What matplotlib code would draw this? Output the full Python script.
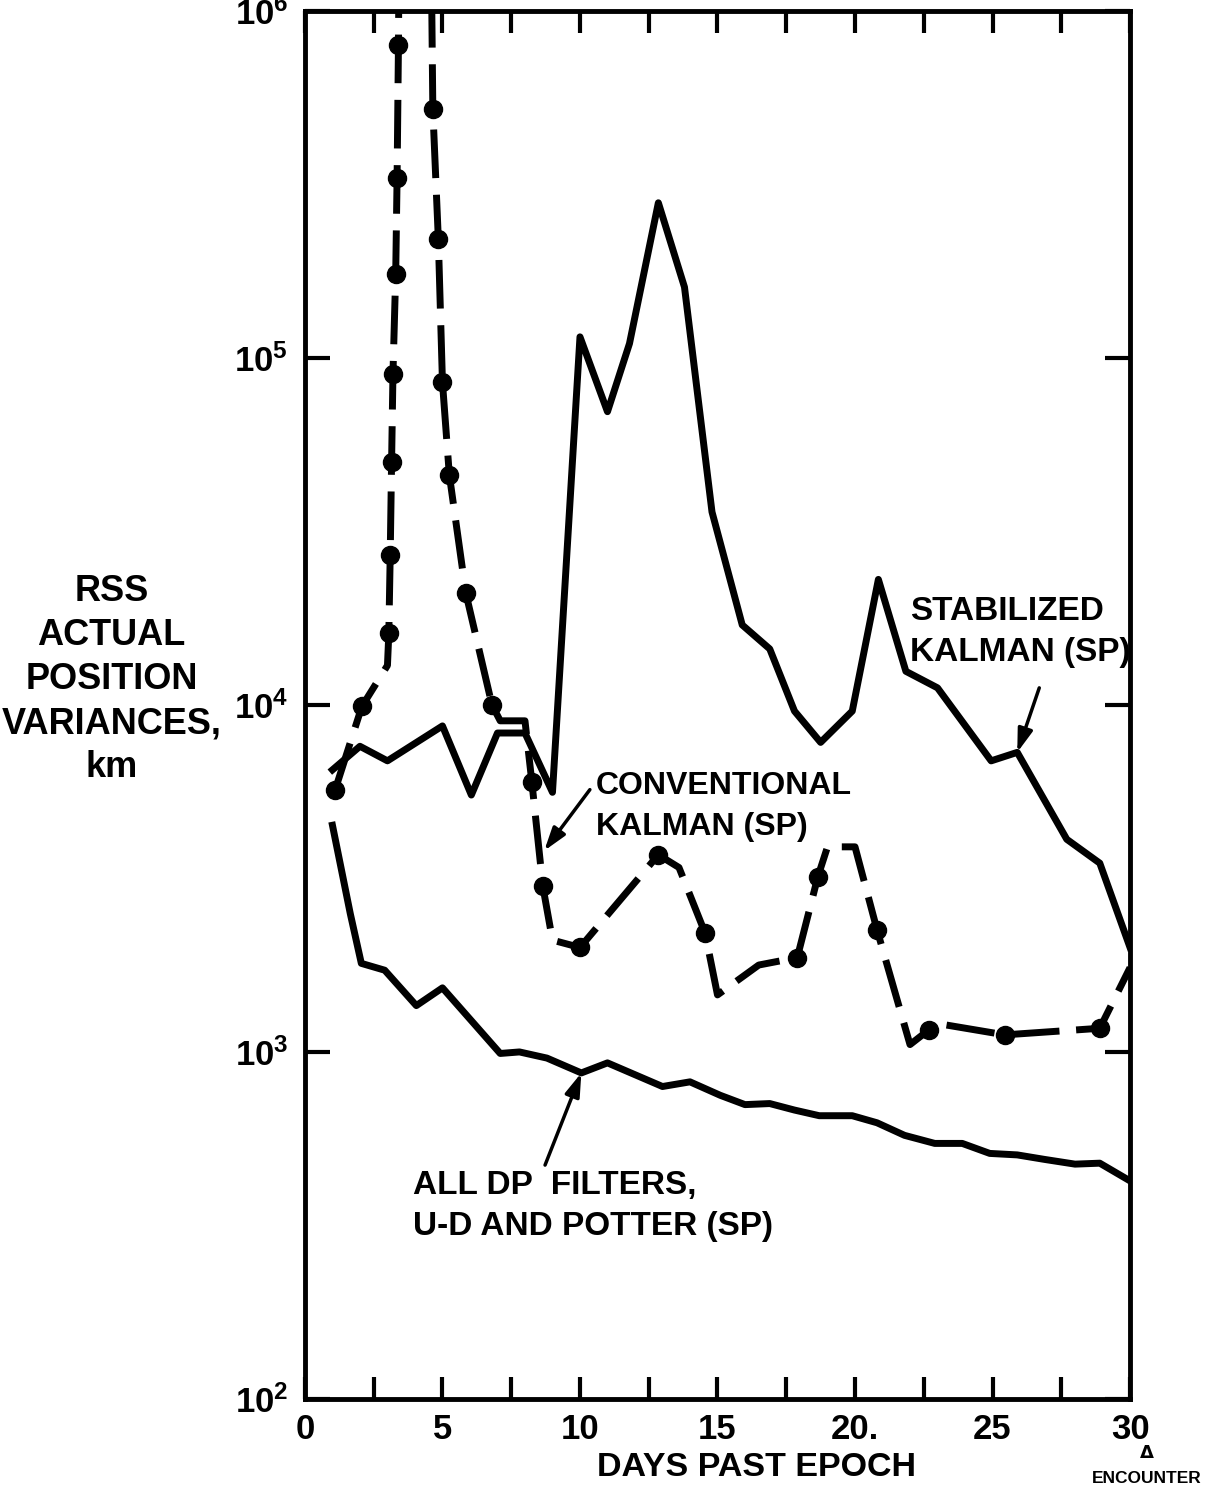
import matplotlib
matplotlib.use("Agg")
import matplotlib.pyplot as plt
import numpy as np

# ---- data ----
stab_x = [1.0, 2.0, 3.0, 5.0, 6.05, 7.0, 8.0, 9.0, 10.0, 11.0, 11.8, 12.85, 13.8,
          14.8, 15.9, 16.9, 17.8, 18.75, 19.9, 20.85, 21.85, 23.0, 24.95, 25.9,
          27.7, 28.9, 30.0]
stab_y = [6.5e3, 7.6e3, 6.9e3, 8.7e3, 5.5e3, 8.3e3, 8.3e3, 5.6e3, 1.15e5, 7.0e4,
          1.1e5, 2.8e5, 1.6e5, 3.6e4, 1.7e4, 1.45e4, 9.6e3, 7.8e3, 9.6e3, 2.3e4,
          1.25e4, 1.12e4, 6.9e3, 7.3e3, 4.1e3, 3.5e3, 2.0e3]

conv_x = [1.1, 2.07, 3.0, 3.05, 3.1, 3.15, 3.2, 3.3, 3.35, 3.4, 3.45, 4.55, 4.65,
          4.85, 5.0, 5.25, 5.85, 6.8, 7.1, 8.0, 8.25, 8.65, 9.0, 10.0, 12.85,
          13.6, 14.55, 15.0, 16.5, 17.9, 18.65, 19.0, 20.0, 20.8, 22.0, 22.7,
          23.2, 25.45, 28.9, 30.0]
conv_y = [5.7e3, 9.9e3, 1.3e4, 1.61e4, 2.7e4, 5.0e4, 9.0e4, 1.75e5, 3.3e5, 8.0e5,
          3e6, 3e6, 5.2e5, 2.2e5, 8.5e4, 4.6e4, 2.1e4, 1.0e4, 9.0e3, 9.0e3, 6.0e3,
          3.0e3, 2.1e3, 2.0e3, 3.7e3, 3.4e3, 2.2e3, 1.46e3, 1.78e3, 1.87e3,
          3.2e3, 3.9e3, 3.9e3, 2.25e3, 1.05e3, 1.16e3, 1.2e3, 1.12e3, 1.17e3,
          1.75e3]
conv_dot = [1, 1, 0, 1, 1, 1, 1, 1, 1, 1, 0, 0, 1, 1, 1, 1, 1, 1, 0, 0, 1, 1, 0,
            1, 1, 0, 1, 0, 0, 1, 1, 0, 0, 1, 0, 1, 0, 1, 1, 0]

dp_x = [1.0, 1.65, 2.05, 2.9, 4.05, 5.0, 7.1, 7.8, 8.8, 10.05, 11.0, 13.0, 14.0,
        15.1, 16.0, 16.9, 17.8, 18.7, 19.9, 20.8, 21.8, 22.9, 23.9, 24.9, 25.9,
        26.9, 28.0, 28.9, 30.0]
dp_y = [4500, 2500, 1800, 1720, 1360, 1530, 990, 1000, 960, 870, 930, 795, 820,
        750, 705, 710, 680, 655, 655, 625, 575, 545, 545, 510, 505, 490, 475,
        478, 425]

x_major = [0, 5, 10, 15, 20, 25, 30]
x_minor = [2.5, 7.5, 12.5, 17.5, 22.5, 27.5]
x_labels = ["0", "5", "10", "15", "20.", "25", "30"]
y_ticks = [1e2, 1e3, 1e4, 1e5, 1e6]
y_labels = [r"$\mathregular{10^%d}$" % k for k in (2, 3, 4, 5, 6)]

plt.rcParams["font.family"] = ["Liberation Sans", "DejaVu Sans"]
plt.rcParams["font.weight"] = "bold"
plt.rcParams["mathtext.default"] = "regular"

fig = plt.figure(figsize=(12.13, 14.97), dpi=100)
ax = fig.add_axes([0.2514, 0.0655, 0.6802, 0.9272])

ax.plot(stab_x, stab_y, color="black", lw=5)
ax.plot(dp_x, dp_y, color="black", lw=5)
ax.plot(conv_x, conv_y, color="black", lw=5, dashes=(7, 2.4))
cx = np.array(conv_x)[np.array(conv_dot) == 1]
cy = np.array(conv_y)[np.array(conv_dot) == 1]
ax.plot(cx, cy, "o", color="black", ms=13)

ax.set_yscale("log")
ax.set_xlim(0, 30)
ax.set_ylim(1e2, 1e6)

ax.set_xticks(x_major)
ax.set_xticklabels(x_labels)
ax.set_xticks(x_minor, minor=True)
ax.set_yticks(y_ticks)
ax.set_yticklabels(y_labels)
ax.yaxis.set_minor_locator(matplotlib.ticker.NullLocator())

ax.tick_params(axis="x", which="both", direction="in", length=16, width=3,
               top=True, labelsize=25, pad=10)
ax.tick_params(axis="y", which="major", direction="in", length=18, width=3,
               right=True, labelsize=25, pad=12)
for s in ax.spines.values():
    s.set_linewidth(3.5)

# ---- labels ----
fig.text(0.092, 0.546, "RSS\nACTUAL\nPOSITION\nVARIANCES,\nkm", ha="center",
         va="center", fontsize=26, linespacing=1.33)
fig.text(0.624, 0.02, "DAYS PAST EPOCH", ha="center", va="center", fontsize=24.5)
fig.text(0.9455, 0.0292, "\u0394", ha="center", va="center", fontsize=13,
         family="DejaVu Sans", fontweight="bold")
fig.text(0.9455, 0.0122, "ENCOUNTER", ha="center", va="center", fontsize=12.5,
         fontweight="bold")

arrow = dict(arrowstyle="-|>,head_length=1.4,head_width=0.45", color="black",
             lw=2.5, shrinkA=0, shrinkB=0)
ax.text(22.0, 1.62e4, "STABILIZED\nKALMAN (SP)", ha="left", va="center",
        fontsize=24, linespacing=1.4)
ax.annotate("", xy=(stab_x[23], stab_y[23]), xytext=(26.7, 1.12e4),
            arrowprops=arrow)
ax.text(10.58, 5.1e3, "CONVENTIONAL\nKALMAN (SP)", ha="left", va="center",
        fontsize=23, linespacing=1.45)
ax.annotate("", xy=(8.7, 3.8e3), xytext=(10.36, 5.7e3), arrowprops=arrow)
ax.text(3.93, 360, "ALL DP  FILTERS,\nU-D AND POTTER (SP)", ha="left",
        va="center", fontsize=24, linespacing=1.4)
ax.annotate("", xy=(dp_x[9], dp_y[9]), xytext=(8.73, 472), arrowprops=arrow)

fig.savefig("out.png", dpi=100)
